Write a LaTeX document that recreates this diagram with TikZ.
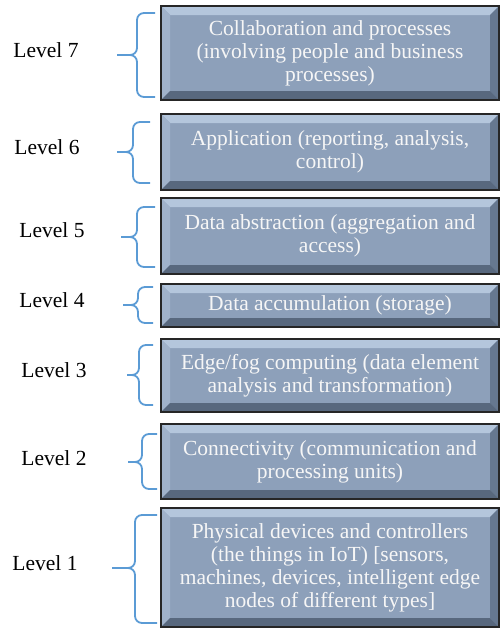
\documentclass[tikz,border=0pt]{standalone}
\usepackage{fontspec}
\setmainfont{Liberation Serif}
\usetikzlibrary{calc}
\definecolor{face}{RGB}{141,160,186}
\definecolor{bevtop}{RGB}{180,198,220}
\definecolor{bevleft}{RGB}{160,178,202}
\definecolor{bevright}{RGB}{102,120,144}
\definecolor{bevbot}{RGB}{88,104,126}
\definecolor{bracecol}{RGB}{91,155,213}
\definecolor{ink}{RGB}{246,246,246}
\tikzset{
  layer/.style={draw=black!85,line width=2.2pt,fill=face,text=ink,align=center,inner sep=0pt,
    minimum width=338pt,font=\fontsize{21.5}{23}\selectfont,
    path picture={
      \coordinate (nw) at (path picture bounding box.north west);
      \coordinate (ne) at (path picture bounding box.north east);
      \coordinate (sw) at (path picture bounding box.south west);
      \coordinate (se) at (path picture bounding box.south east);
      \fill[bevtop] (nw) -- (ne) -- ($(ne)+(-9pt,-9pt)$) -- ($(nw)+(9pt,-9pt)$) -- cycle;
      \fill[bevleft] (nw) -- (sw) -- ($(sw)+(9pt,9pt)$) -- ($(nw)+(9pt,-9pt)$) -- cycle;
      \fill[bevright] (ne) -- (se) -- ($(se)+(-9pt,9pt)$) -- ($(ne)+(-9pt,-9pt)$) -- cycle;
      \fill[bevbot] (sw) -- (se) -- ($(se)+(-9pt,9pt)$) -- ($(sw)+(9pt,9pt)$) -- cycle;
    }},
  lev/.style={font=\fontsize{21.5}{23}\selectfont},
  brc/.style={draw=bracecol,line width=1.8pt,rounded corners=7pt}
}

\begin{document}
\begin{tikzpicture}[x=1pt,y=-1pt]
  \useasboundingbox (0,0) rectangle (503,629);

  % layers
  \node[layer,minimum height=94pt] (lay7) at (330,53) {Collaboration and processes\\(involving people and business\\processes)};
  \node[layer,minimum height=76pt] (lay6) at (330,152) {Application (reporting, analysis,\\control)};
  \node[layer,minimum height=76pt] (lay5) at (330,236) {Data abstraction (aggregation and\\access)};
  \node[layer,minimum height=43pt] (lay4) at (330,305.5) {Data accumulation (storage)};
  \node[layer,minimum height=73pt] (lay3) at (330,375.5) {Edge/fog computing (data element\\analysis and transformation)};
  \node[layer,minimum height=75pt] (lay2) at (330,461.5) {Connectivity (communication and\\processing units)};
  \node[layer,minimum height=119pt] (lay1) at (330,567.5) {Physical devices and controllers\\(the things in IoT) [sensors,\\machines, devices, intelligent edge\\nodes of different types]};

  % level names
  \node[lev] (lev7) at (46,50) {Level 7};
  \node[lev] (lev6) at (47,147) {Level 6};
  \node[lev] (lev5) at (52,230) {Level 5};
  \node[lev] (lev4) at (52,300) {Level 4};
  \node[lev] (lev3) at (54,370) {Level 3};
  \node[lev] (lev2) at (54,458) {Level 2};
  \node[lev] (lev1) at (45,563) {Level 1};

  % braces
  \foreach \r/\v/\t/\a/\b/\m in {155/137/117/13/97/55,150/133/117/122/183/152,155/137/121/207/267/237,
    153/138/123/287/323/305,153/139/127/345/405/375,157/142/128/434/489/462,157/135/112/515/623/568}{
    \draw[brc] (\r,\a) -| (\v,\m) -- (\t,\m) (\r,\b) -| (\v,\m) -- (\t,\m);
  }
\end{tikzpicture}
\end{document}
